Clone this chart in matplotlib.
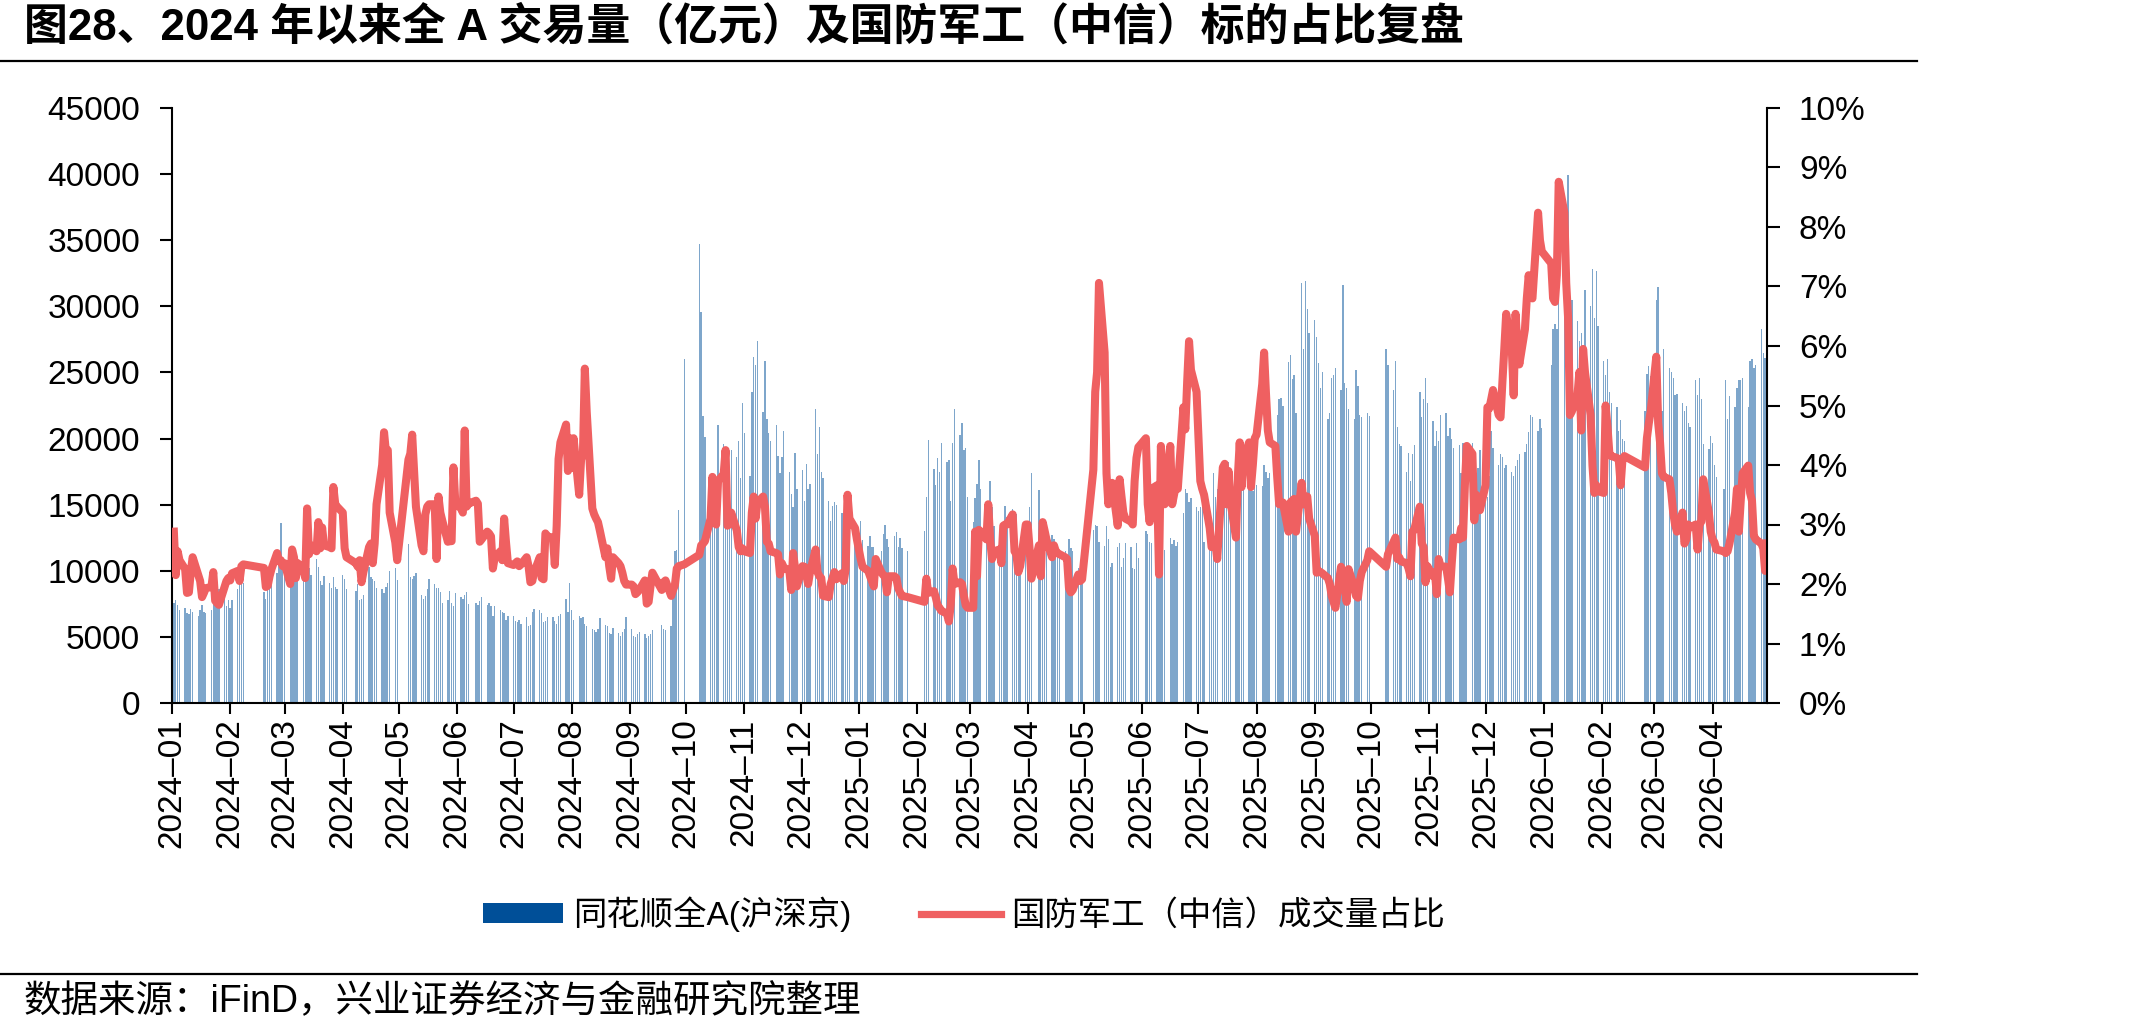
import matplotlib
matplotlib.use('Agg')
import matplotlib.pyplot as plt
import matplotlib.dates as mdates
from matplotlib.lines import Line2D
from matplotlib.patches import Patch
from matplotlib.ticker import FuncFormatter, MultipleLocator
import pandas as pd

plt.rcParams['font.family'] = ['Liberation Sans', 'Noto Sans CJK SC']

# 同花顺全A成交额（亿元），每个交易日一个值，每行一个月
vol_2024 = [
    7600, 7800, 7400, 7000, 7200, 6800, 6700, 7100, 6900, 6600, 7000, 7400, 6900, 6800, 7000, 7500, 8200, 8900, 8600, 7900, 7300, 7800,
    7200, 7800, 8600, 9400, 9000, 9100, 8400, 7900, 8600, 9500, 10200, 9800, 10800, 13600, 10600,
    9800, 10300, 9600, 9400, 10100, 9300, 9800, 10400, 11300, 10200, 9700, 10900, 10300, 9200, 8900, 9600, 9100, 8700, 9500, 8800, 8600,
    9700, 9400, 8600, 8500, 9000, 7800, 7900, 8200, 10300, 9500, 9400, 9200, 8700, 8600, 8300, 8800, 9100, 10000, 10200, 9300,
    12000, 9500, 9400, 9600, 9800, 8200, 7900, 8100, 8600, 9400, 9000, 8700, 8700, 8400, 7600, 7800, 8500, 7600, 7300, 8300,
    8000, 7900, 8200, 8400, 7500, 7600, 7400, 7700, 8000, 7400, 7600, 7300, 6600, 7300, 7000, 6900, 6800, 6300, 6600,
    6600, 6200, 6100, 6300, 6000, 6500, 5800, 5900, 6900, 7100, 7000, 6800, 6100, 6200, 6500, 6500, 6200, 6000, 6600, 6700, 7900, 6900, 9100,
    7000, 6300, 6600, 6400, 6500, 6000, 5800, 5600, 5500, 5400, 5600, 6400, 5900, 5800, 5300, 5200, 5700, 5300, 5100, 5400, 5600, 6500,
    5600, 5100, 5000, 5200, 5400, 5200, 4900, 5100, 5200, 5500, 5900, 5600, 5500, 5800, 9600, 11500, 11600, 14600, 26000,
    34700, 29600, 21700, 20100, 16000, 15500, 15200, 14500, 21000, 19600, 18400, 18000, 16500, 19100, 18600, 19800, 17000, 22700,
    20400, 17200, 23500, 26200, 25600, 27400, 22000, 25900, 21500, 20400, 19800, 21000, 18700, 17400, 18600, 20600, 17500, 15800, 14800, 18900, 16200,
    17600, 15300, 18100, 16200, 16600, 22200, 18800, 20900, 17500, 17000, 15300, 13800, 14900, 15200, 15000, 14400, 13400, 13200, 14600, 13300, 12300, 11800,
]
vol_2025 = [
    13800, 12300, 11900, 12600, 11800, 11800, 10900, 11500, 12800, 13500, 12400, 11800, 12600, 12900, 11800, 12500, 11700, 11500,
    13000, 15600, 19900, 17700, 16500, 18500, 17500, 19700, 18200, 18400, 15300, 19700, 22200, 20300, 21200, 19100, 19300, 15600,
    13700, 15500, 16600, 18400, 16200, 15300, 14600, 16800, 14800, 13400, 12900, 12100, 12400, 14900, 14100, 14700, 13200, 14300, 11200, 10900, 12700,
    13700, 14800, 17400, 16100, 13600, 13500, 13300, 13200, 12700, 12400, 11900, 11300, 11000, 11500, 10600, 12400, 11700, 11500, 10200, 10800, 10500,
    13100, 13500, 13400, 12200, 11900, 13400, 12400, 10300, 10600, 11800, 12100, 10300, 11000, 12100, 11800, 10200, 10100, 12100, 11000,
    13000, 12800, 12200, 12100, 12500, 12300, 12900, 12400, 11600, 12500, 12000, 12300, 11900, 12200, 14400, 16200, 15900, 15200, 15500, 14800,
    14500, 14800, 15000, 12200, 13200, 14000, 17400, 15600, 16200, 15100, 14900, 15300, 18200, 17300, 16400, 19300, 19000, 18100, 17600, 18000, 17200, 16000, 19400,
    16500, 16400, 18000, 17500, 17000, 17400, 18800, 21800, 23000, 23100, 22500, 25800, 26300, 24500, 24800, 21900, 31800, 26800, 31900, 29800, 28000,
    29000, 27700, 25700, 23800, 25000, 21500, 21900, 24600, 24800, 25300, 23700, 31600, 24200, 23800, 22200, 21500, 25200, 24000, 21800, 21600, 21900, 21700,
    26800, 25600, 23700, 25900, 20900, 19600, 19400, 17500, 18900, 16800, 18800, 19500, 23500, 21600, 23000, 24600, 22700,
    21300, 19400, 20600, 19800, 21800, 21900, 20200, 20800, 20000, 19300, 19500, 17400, 19700, 14300, 17800, 19700, 18400, 17400, 17800, 19100,
    17400, 15600, 17200, 20600, 19300, 18000, 18800, 18600, 17800, 18000, 17500, 17200, 17900, 18400, 18800, 19000, 19600, 20500, 21800, 21600, 20600, 21500, 20800,
]
vol_2026 = [
    25600, 28300, 28700, 28300, 30500, 32500, 36900, 39900, 29500, 30500, 28900, 27400, 28000, 25000, 31200, 30000, 32800, 29100, 32700, 28500,
    25900, 24800, 26000, 23500, 22700, 22400, 20600, 21400, 20000, 19800, 22100, 24900, 25500, 24700,
    30500, 31500, 24100, 22100, 26800, 25300, 25000, 24600, 23300, 23400, 22700, 22100, 22500, 21200, 20900, 24400, 23300, 24600, 23000, 19600, 19200, 20200,
    19700, 18000, 17100, 16200, 24400, 21500, 23200, 22400, 23800, 24400, 24400, 24600, 22400, 25900, 26000, 25300, 25600, 28300, 26500, 26100, 27500,
]

# 国防军工（中信）成交量占比（%），每行一个月
pct_2024 = [
    2.88, 2.15, 2.55, 2.40, 2.25, 1.85, 1.86, 2.20, 2.45, 2.15, 2.05, 1.78, 1.85, 1.93, 1.95, 2.20, 1.72, 1.68, 1.65, 1.95, 2.05, 2.10,
    2.06, 2.18, 2.22, 2.05, 2.30, 2.33, 2.27, 1.95, 1.97, 2.13, 2.25, 2.52, 2.38, 2.40, 2.30,
    2.35, 2.00, 2.58, 2.45, 2.10, 2.35, 2.25, 2.10, 3.27, 2.50, 2.65, 2.55, 3.04, 2.60, 2.95, 2.65, 2.62, 2.60, 3.63, 3.34, 3.30,
    3.20, 2.60, 2.45, 2.35, 2.29, 2.40, 2.03, 2.20, 2.62, 2.68, 2.35, 2.68, 3.34, 4.00, 4.55, 4.22, 4.25, 3.20, 2.70, 2.40,
    4.09, 4.19, 4.51, 3.89, 3.30, 2.65, 2.55, 3.17, 3.30, 3.34, 3.34, 2.42, 3.47, 3.20, 3.07, 2.71, 2.72, 2.72, 3.96, 3.35,
    3.27, 3.20, 4.58, 3.30, 3.35, 3.40, 3.35, 2.71, 2.75, 2.88, 2.85, 2.80, 2.26, 2.45, 2.55, 2.40, 3.10, 2.70, 2.35,
    2.32, 2.35, 2.38, 2.30, 2.33, 2.45, 2.30, 2.03, 2.05, 2.20, 2.45, 2.10, 2.08, 2.85, 2.80, 2.78, 2.32, 2.98, 4.10, 4.38, 4.68, 3.90, 4.45,
    3.95, 4.45, 3.50, 4.09, 4.20, 5.62, 4.90, 3.27, 3.17, 3.10, 3.04, 2.90, 2.45, 2.60, 2.30, 2.09, 2.45, 2.35, 2.30, 2.19, 2.05, 1.99,
    1.99, 1.96, 1.83, 1.86, 1.90, 2.06, 1.67, 1.70, 1.96, 2.19, 1.90, 2.03, 2.06, 1.80, 1.90, 1.98, 2.26, 2.30, 2.33,
    2.49, 2.65, 2.68, 2.72, 3.10, 3.80, 3.05, 3.00, 3.73, 3.85, 4.25, 2.98, 3.00, 3.20, 2.90, 2.62, 2.55, 2.60,
    2.55, 2.52, 3.20, 3.47, 3.10, 3.37, 3.47, 3.30, 2.71, 2.68, 2.55, 2.52, 2.50, 2.16, 2.35, 2.28, 2.22, 1.90, 2.52, 2.28, 1.96,
    2.30, 2.29, 2.15, 2.00, 2.20, 2.58, 2.20, 2.13, 2.10, 1.80, 1.78, 2.00, 2.10, 2.20, 2.08, 2.18, 2.05, 2.25, 3.50, 3.10, 2.94, 2.75,
]
pct_2025 = [
    2.42, 2.29, 2.22, 2.13, 2.05, 1.96, 2.42, 2.20, 2.15, 2.13, 1.86, 2.13, 2.13, 2.10, 1.93, 1.86, 1.80, 1.78,
    1.70, 2.09, 1.85, 1.88, 1.78, 1.64, 1.60, 1.55, 1.50, 1.37, 1.65, 2.26, 2.00, 2.03, 2.00, 1.80, 1.64, 1.60,
    1.60, 2.88, 2.13, 2.91, 2.88, 2.75, 3.34, 2.75, 2.42, 2.55, 2.58, 2.35, 2.98, 3.00, 3.00, 3.17, 2.55, 2.50, 2.20, 2.30, 3.00,
    3.00, 2.60, 2.09, 2.65, 2.13, 3.04, 2.90, 2.75, 2.45, 2.65, 2.55, 2.52, 2.50, 2.45, 2.42, 1.93, 1.86, 1.90, 2.16, 2.05, 2.08,
    3.92, 5.23, 5.56, 7.06, 5.89, 3.86, 3.34, 3.60, 3.70, 2.98, 3.76, 3.47, 3.20, 3.10, 3.05, 3.00, 3.73, 4.12, 4.30,
    4.45, 3.34, 3.04, 3.60, 3.66, 2.16, 4.32, 3.80, 3.34, 4.32, 3.34, 3.50, 3.66, 3.60, 4.97, 4.60, 5.40, 6.08, 5.60, 5.23,
    4.50, 3.73, 3.60, 3.50, 2.94, 2.62, 2.68, 2.70, 2.42, 3.96, 4.02, 3.34, 3.90, 3.40, 2.78, 3.80, 4.38, 3.63, 4.10, 4.38, 3.63, 4.00, 4.45,
    4.51, 5.36, 5.89, 5.20, 4.58, 4.38, 4.32, 3.79, 3.34, 3.36, 3.37, 2.88, 3.37, 3.40, 3.43, 2.88, 3.70, 3.34, 3.40, 3.47, 3.10,
    2.81, 2.19, 2.22, 2.20, 2.18, 2.10, 2.00, 1.80, 1.70, 1.60, 2.29, 2.05, 1.95, 1.70, 2.25, 1.95, 1.80, 1.77, 2.05, 2.20, 2.40, 2.55,
    2.29, 2.50, 2.71, 2.78, 2.42, 2.45, 2.38, 2.35, 2.26, 2.13, 2.88, 2.91, 3.30, 2.68, 2.62, 2.03, 2.30,
    2.13, 2.20, 1.83, 2.42, 2.30, 2.29, 2.09, 1.86, 2.35, 2.78, 2.75, 2.94, 2.78, 3.66, 4.32, 4.19, 3.07, 3.50, 3.40, 3.24,
    3.66, 4.97, 4.95, 5.10, 5.26, 4.84, 4.80, 5.40, 5.95, 6.54, 5.95, 5.17, 6.54, 6.00, 5.69, 6.28, 6.80, 7.19, 6.87, 6.80, 8.24, 7.78, 7.59,
]
pct_2026 = [
    7.39, 6.80, 6.74, 7.19, 8.76, 8.24, 7.06, 6.47, 4.84, 4.90, 5.17, 5.56, 4.58, 5.95, 5.56, 4.84, 3.99, 3.53, 3.66, 3.56,
    3.53, 5.00, 4.64, 4.19, 4.15, 4.12, 4.09, 3.66, 4.10, 4.15, 3.96, 4.45, 4.70, 4.90,
    5.82, 4.71, 4.38, 3.86, 3.80, 3.76, 3.53, 3.20, 3.00, 2.88, 3.20, 2.68, 2.75, 3.00, 2.95, 3.00, 2.58, 3.00, 3.05, 3.76, 3.20, 2.88,
    2.75, 2.70, 2.58, 2.55, 2.52, 2.55, 2.68, 3.20, 3.60, 2.88, 3.40, 3.86, 3.99, 3.53, 3.40, 2.81, 2.75, 2.68, 2.60, 2.22, 2.68,
]

# 休市日（工作日中的节假日）
holidays = [
    '2024-01-01', '2024-02-09', '2024-02-12', '2024-02-13', '2024-02-14', '2024-02-15', '2024-02-16',
    '2024-04-04', '2024-04-05', '2024-05-01', '2024-05-02', '2024-05-03', '2024-06-10',
    '2024-09-16', '2024-09-17', '2024-10-01', '2024-10-02', '2024-10-03', '2024-10-04', '2024-10-07',
    '2025-01-01', '2025-01-28', '2025-01-29', '2025-01-30', '2025-01-31', '2025-02-03', '2025-02-04',
    '2025-04-04', '2025-05-01', '2025-05-02', '2025-05-05', '2025-06-02',
    '2025-10-01', '2025-10-02', '2025-10-03', '2025-10-06', '2025-10-07', '2025-10-08',
    '2026-01-01', '2026-01-02', '2026-02-16', '2026-02-17', '2026-02-18', '2026-02-19', '2026-02-20',
    '2026-02-23', '2026-04-06',
]

days = pd.bdate_range('2024-01-01', '2026-04-30')
days = days[~days.isin(pd.to_datetime(holidays))]
vol = vol_2024 + vol_2025 + vol_2026
pct = pct_2024 + pct_2025 + pct_2026
assert len(days) == len(vol) == len(pct), (len(days), len(vol), len(pct))
dates = days.to_pydatetime()

bar_color = '#7ea6cb'
legend_blue = '#004f98'
line_color = '#ef6061'

fig = plt.figure(figsize=(21.32, 10.33), dpi=100)
ax = fig.add_axes([172 / 2132, 1 - 703 / 1033, (1767 - 172) / 2132, (703 - 108) / 1033])
ax2 = ax.twinx()

ax.bar(dates, vol, width=0.72, color=bar_color, linewidth=0)
ax2.plot(dates, [p / 100 for p in pct], color=line_color, lw=5.8, solid_joinstyle='round')

ax.set_xlim(pd.Timestamp('2024-01-01'), pd.Timestamp('2026-04-30'))
ax.set_ylim(0, 45000)
ax2.set_ylim(0, 0.10)
ax.yaxis.set_major_locator(MultipleLocator(5000))
ax2.yaxis.set_major_locator(MultipleLocator(0.01))
ax2.yaxis.set_major_formatter(FuncFormatter(lambda v, _: f'{v * 100:.0f}%'))
ax.xaxis.set_major_locator(mdates.MonthLocator())
ax.xaxis.set_major_formatter(mdates.DateFormatter('%Y–%m'))

for a in (ax, ax2):
    a.spines['top'].set_visible(False)
    for s in a.spines.values():
        s.set_linewidth(1.5)
ax.spines['right'].set_visible(False)
ax2.spines['left'].set_visible(False)
ax2.spines['bottom'].set_visible(False)

ax.tick_params(axis='y', direction='out', length=9, width=1.5, labelsize=24, pad=14)
ax2.tick_params(axis='y', direction='out', length=9, width=1.5, labelsize=24, pad=14)
ax.tick_params(axis='x', direction='out', length=8, width=1.5, labelsize=24, pad=3, rotation=90)

# 标题、分隔线、图例与来源
fig.text(24 / 2132, 1 - 27 / 1033, '图28、2024 年以来全 A 交易量（亿元）及国防军工（中信）标的占比复盘',
         fontsize=31.6, fontweight='bold', va='center', ha='left')
fig.add_artist(Line2D([0, 1917 / 2132], [1 - 61 / 1033] * 2, color='black', lw=1.6))
fig.add_artist(Line2D([0, 1917 / 2132], [1 - 974 / 1033] * 2, color='black', lw=1.6))

handles = [Patch(facecolor=legend_blue, edgecolor='none'),
           Line2D([], [], color=line_color, lw=5.2)]
fig.legend(handles, ['同花顺全A(沪深京)', '国防军工（中信）成交量占比'],
           loc='center', bbox_to_anchor=(964 / 2132, 1 - 914 / 1033), ncol=2,
           frameon=False, fontsize=24, handlelength=2.4, handleheight=0.55,
           handletextpad=0.3, columnspacing=2.1)

fig.text(24 / 2132, 1 - 1002 / 1033, '数据来源：iFinD，兴业证券经济与金融研究院整理',
         fontsize=27, va='center', ha='left')

fig.savefig('out.png', dpi=100)
